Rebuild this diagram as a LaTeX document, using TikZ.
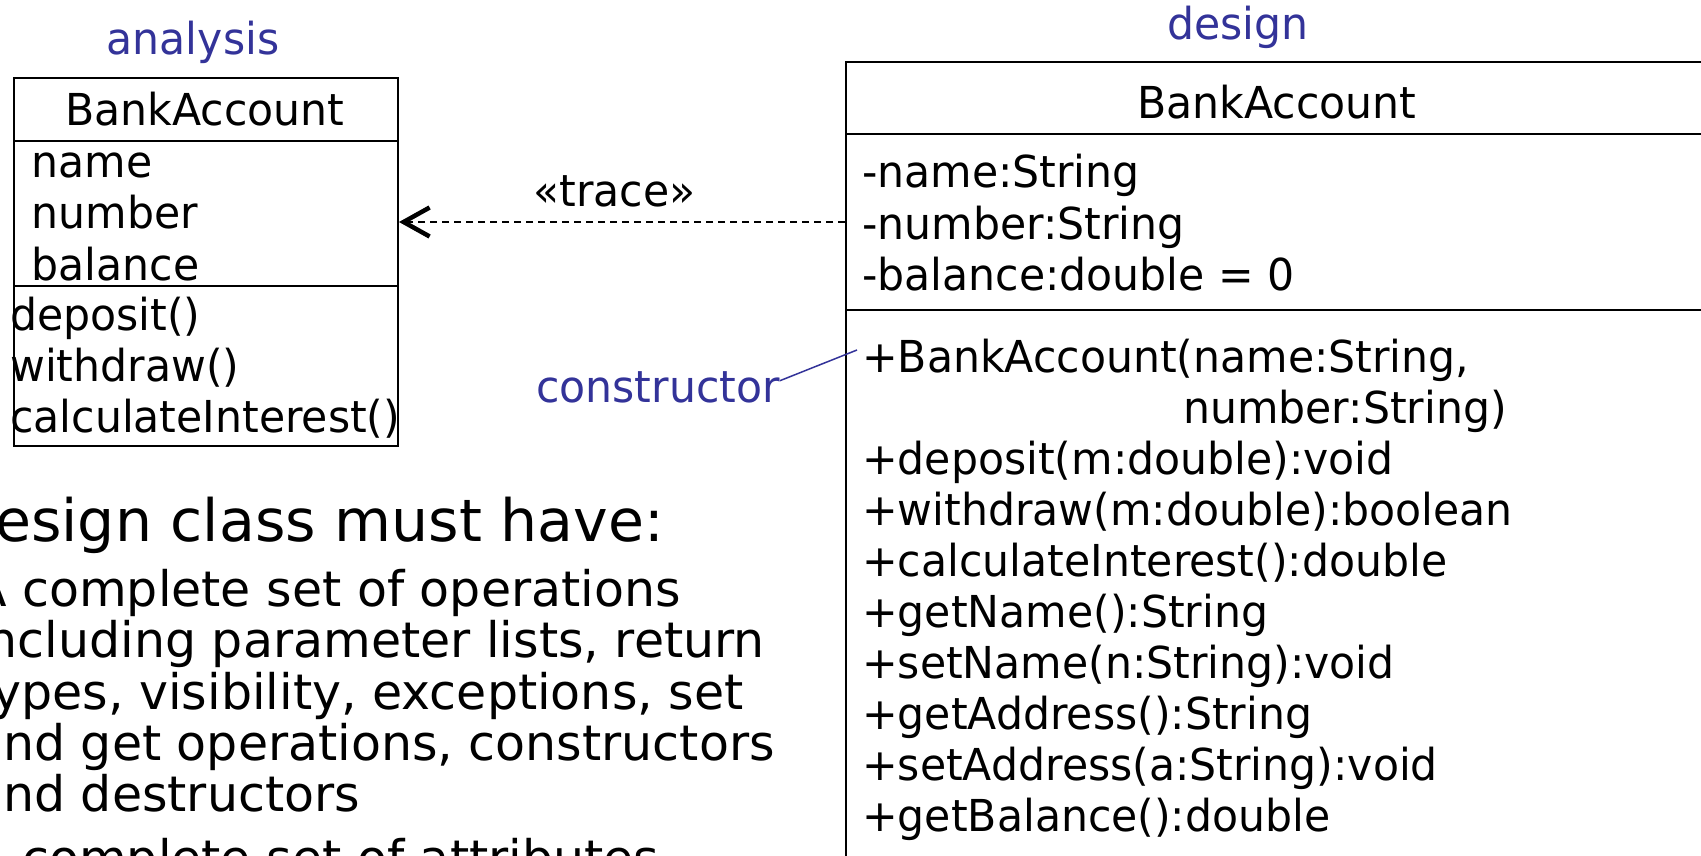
\documentclass[tikz,border=0pt]{standalone}
\usepackage{fontspec}
\setmainfont{DejaVu Sans}
\newfontfamily\umlfont{DejaVu Sans}[FakeStretch=0.968]
\usetikzlibrary{arrows.meta}
\definecolor{noteblue}{RGB}{51,51,153}
\tikzset{
  box/.style={draw, line width=2pt, inner sep=0pt, anchor=north west},
  uml/.style={font=\umlfont\fontsize{44}{51}\selectfont, inner sep=0pt, anchor=base west},
  umlc/.style={uml, anchor=base},
  note/.style={font=\umlfont\fontsize{44}{51}\selectfont, text=noteblue, inner sep=0pt, anchor=base},
  slidetitle/.style={font=\fontsize{58.5}{62}\selectfont, inner sep=0pt, anchor=base west},
  slidetext/.style={font=\fontsize{49}{51}\selectfont, inner sep=0pt, anchor=base west},
  dep/.style={line width=2pt, dash pattern=on 7pt off 5pt,
    -{Straight Barb[length=26pt,width=29pt,line width=4.5pt]}},
  noteline/.style={draw=noteblue, line width=1.5pt}
}
\begin{document}
\begin{tikzpicture}[x=1pt,y=-1pt]
\useasboundingbox (0,0) rectangle (1701,856);
\clip (0,0) rectangle (1701,856);

% analysis class
\node[box, minimum width=384.5pt, minimum height=63.3pt] (anaHead) at (12.5,76.7) {};
\node[box, minimum width=384.5pt, minimum height=145pt] (anaAttr) at (12.5,140) {};
\node[box, minimum width=384.5pt, minimum height=160pt] (anaOps) at (12.5,285) {};
\node[note] (anaLabel) at (193,55) {analysis};
\node[umlc] (anaName) at (204.7,126) {BankAccount};
\node[uml] (aa1) at (31.5,178) {name};
\node[uml] (aa2) at (31.5,229) {number};
\node[uml] (aa3) at (31.5,280) {balance};
\node[uml] (ao1) at (10,330) {deposit()};
\node[uml] (ao2) at (10,381) {withdraw()};
\node[uml] (ao3) at (10,432) {calculateInterest()};

% design class (runs past the right and bottom edges)
\node[box, minimum width=900pt, minimum height=72.3pt] (desHead) at (845,60.7) {};
\node[box, minimum width=900pt, minimum height=176pt] (desAttr) at (845,133) {};
\node[box, minimum width=900pt, minimum height=600pt] (desOps) at (845,309) {};
\node[note] (desLabel) at (1238,40) {design};
\node[umlc] (desName) at (1277,119) {BankAccount};
\node[uml] (da1) at (862,188) {-name:String};
\node[uml] (da2) at (862,239) {-number:String};
\node[uml] (da3) at (862,290) {-balance:double = 0};
\node[uml] (do0) at (862,372) {+BankAccount(name:String,};
\node[uml] (do0b) at (1183,423.1) {number:String)};
\node[uml] (do1) at (862,474.2) {+deposit(m:double):void};
\node[uml] (do2) at (862,525.3) {+withdraw(m:double):boolean};
\node[uml] (do3) at (862,576.4) {+calculateInterest():double};
\node[uml] (do4) at (862,627.5) {+getName():String};
\node[uml] (do5) at (862,678.6) {+setName(n:String):void};
\node[uml] (do6) at (862,729.7) {+getAddress():String};
\node[uml] (do7) at (862,780.8) {+setAddress(a:String):void};
\node[uml] (do8) at (862,831.9) {+getBalance():double};

% trace dependency
\node[umlc] (traceLbl) at (614.5,206) {«trace»};
\draw[dep] (desAttr.west) -- (anaAttr.east |- desAttr.west);

% constructor note
\node[note, anchor=base west] (ctor) at (536,402.7) {constructor};
\coordinate (ctorTip) at (857,350);
\draw[noteline] ([yshift=22pt]ctor.base east) -- (ctorTip);

% slide text on the left
\node[slidetitle] (title) at (-50,541) {Design class must have:};
\node[slidetext] (b1) at (-27,606.7) {A complete set of operations};
\node[slidetext] (b2) at (-27,657.9) {including parameter lists, return};
\node[slidetext] (b3) at (-27,709.1) {types, visibility, exceptions, set};
\node[slidetext] (b4) at (-27,760.3) {and get operations, constructors};
\node[slidetext] (b5) at (-27,811.5) {and destructors};
\node[slidetext] (b6) at (-27,875) {A complete set of attributes};
\end{tikzpicture}
\end{document}
